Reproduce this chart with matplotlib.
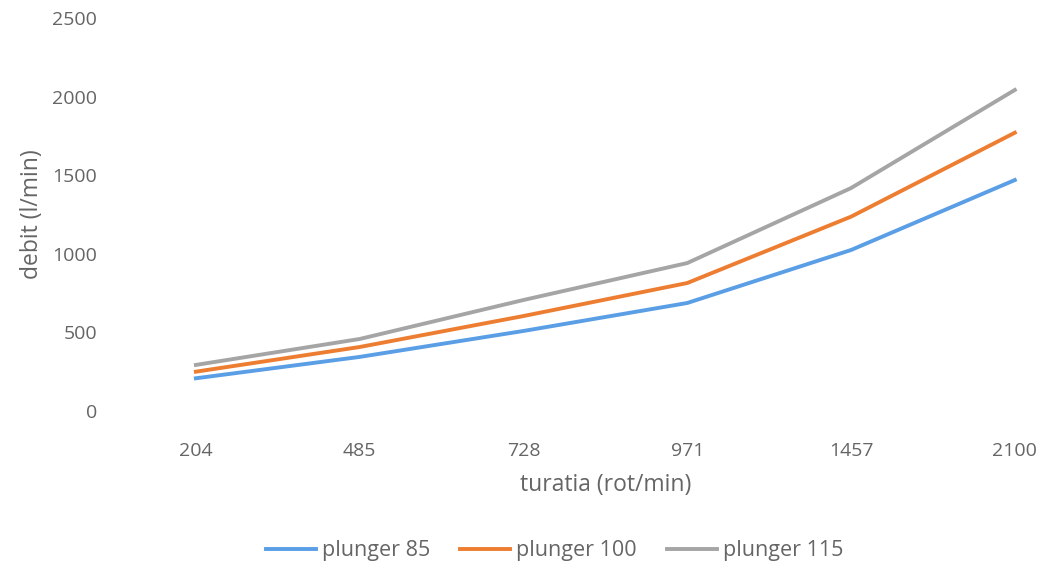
import matplotlib
matplotlib.use("Agg")
import matplotlib.pyplot as plt

# turatia (rot/min) categories and debit (l/min) per plunger
SPEEDS = ["204", "485", "728", "971", "1457", "2100"]
PLUNGER_85 = [208, 344, 509, 687, 1024, 1469]
PLUNGER_100 = [250, 407, 604, 814, 1236, 1770]
PLUNGER_115 = [293, 458, 706, 941, 1418, 2042]

BLUE, ORANGE, GRAY = "#5a9ee6", "#ed7d31", "#a5a5a5"
TEXT = "#656565"

plt.rcParams.update({"font.family": ["Open Sans", "DejaVu Sans"], "font.size": 13})

fig = plt.figure(figsize=(10.41, 5.69), dpi=100)
# plot area runs past the right edge, like the cropped original
ax = fig.add_axes([0.1095, 0.2777, 0.944, 0.6907])

x = list(range(len(SPEEDS)))
ax.plot(x, PLUNGER_85, color=BLUE, lw=2.8, label="plunger 85")
ax.plot(x, PLUNGER_100, color=ORANGE, lw=2.8, label="plunger 100")
ax.plot(x, PLUNGER_115, color=GRAY, lw=2.8, label="plunger 115")

ax.set_xlim(-0.5, len(SPEEDS) - 0.5)
ax.set_ylim(0, 2500)
ax.set_yticks(range(0, 2501, 500))
ax.set_xticks(x)
ax.set_xticklabels(SPEEDS)
for s in ax.spines.values():
    s.set_visible(False)
ax.tick_params(length=0, colors=TEXT, labelsize=14)
ax.tick_params(axis="x", pad=22)
ax.tick_params(axis="y", pad=12)

ax.set_xlabel("turatia (rot/min)", color=TEXT, fontsize=16.5, labelpad=10)
ax.set_ylabel("debit (l/min)", color=TEXT, fontsize=16.5, labelpad=6)

fig.legend(loc="center", bbox_to_anchor=(0.533, 0.032), ncol=3, frameon=False,
           fontsize=15.5, handlelength=2.3, handletextpad=0.3, columnspacing=1.4,
           labelcolor=TEXT)

fig.savefig("out.png", dpi=100)
